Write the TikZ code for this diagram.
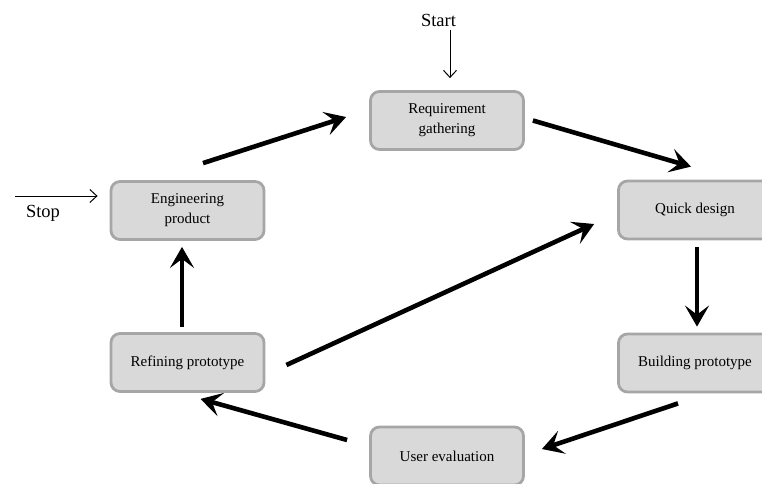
\documentclass[tikz,border=0pt]{standalone}
\usepackage{fontspec}
\setmainfont{Liberation Serif}
\usetikzlibrary{arrows.meta,positioning}

\definecolor{boxfill}{HTML}{D9D9D9}
\definecolor{boxline}{HTML}{A6A6A6}

\begin{document}
\begin{tikzpicture}[
    x=1pt, y=-1pt,
    phase/.style={
        rectangle, rounded corners=9pt,
        draw=boxline, fill=boxfill,
        line width=2.8pt,
        minimum width=153pt, minimum height=58pt,
        align=center, inner sep=0pt,
        font=\fontsize{15}{20}\selectfont
    },
    flow/.style={
        line width=4.6pt,
        -{Stealth[length=21pt,width=24pt,inset=9pt]}
    },
    thin/.style={
        line width=1pt,
        -{Straight Barb[length=7pt,width=13pt]}
    },
    label/.style={font=\fontsize{18.5}{22}\selectfont, inner sep=0pt}
]
\useasboundingbox (0,0) rectangle (762,483);
\clip (0,0) rectangle (762,483);

\node[phase] (req)    at (447,120.5) {Requirement\\gathering};
\node[phase] (quick)  at (695,210)   {Quick design};
\node[phase] (build)  at (695,363)   {Building prototype};
\node[phase] (user)   at (447,456)   {User evaluation};
\node[phase] (refine) at (187.5,362.5) {Refining prototype};
\node[phase] (eng)    at (187.5,210.5) {Engineering\\product};

% start and stop
\node[label] (start) at (438.5,20) {Start};
\node[label] (stop)  at (43,213)   {Stop};
\coordinate (stopin) at (15,196);

\draw[thin] ([xshift=11.5pt,yshift=-4pt]start.south) -- ([xshift=3pt,yshift=12pt]req.north);
\draw[thin] (stopin) -- ([xshift=-12pt,yshift=14.5pt]eng.west);

% the cycle
\draw[flow] ([xshift=15.5pt,yshift=17pt]eng.north) -- ([xshift=-23pt,yshift=3.5pt]req.west);
\draw[flow] ([xshift=8pt]req.east) -- ([xshift=-4pt,yshift=13pt]quick.north);
\draw[flow] ([xshift=2pt,yshift=-7pt]quick.south) -- ([xshift=2pt,yshift=6pt]build.north);
\draw[flow] ([xshift=-17pt,yshift=-10pt]build.south) -- ([xshift=17pt,yshift=7pt]user.east);
\draw[flow] ([xshift=-22pt,yshift=16pt]user.west) -- ([xshift=13pt,yshift=-6pt]refine.south);
\draw[flow] ([xshift=-5.5pt,yshift=5pt]refine.north) -- ([xshift=-5.5pt,yshift=-6pt]eng.south);
\draw[flow] ([xshift=21pt,yshift=-2.5pt]refine.east) -- ([xshift=-23pt,yshift=-14pt]quick.west);
\end{tikzpicture}
\end{document}
